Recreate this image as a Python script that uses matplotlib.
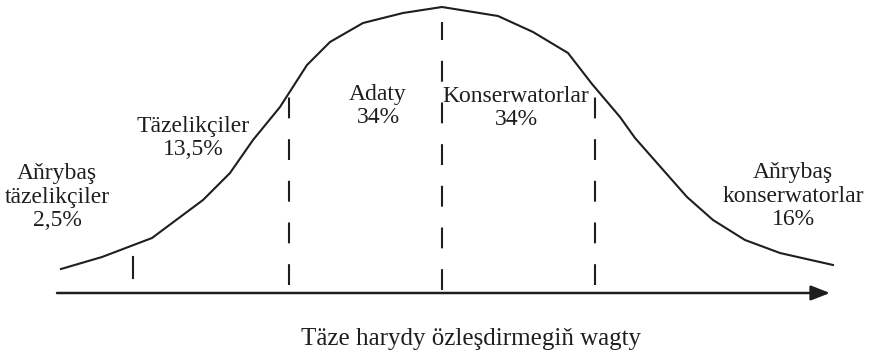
import matplotlib
matplotlib.use("Agg")
import matplotlib.pyplot as plt

plt.rcParams["font.family"] = ["Liberation Serif", "DejaVu Serif"]
plt.rcParams["lines.scale_dashes"] = False

INK = "#1e1e1e"

# adoption curve: time along the axis, height above the axis
curve_t = [61, 102, 152, 203, 230, 253, 280, 307, 330, 363, 403, 442,
           498, 533, 568, 592, 620, 635, 687, 713, 745, 780, 833]
curve_h = [24, 36, 55, 93, 120, 153, 186, 228, 251, 270, 280, 286,
           277, 261, 240, 209, 176, 155, 96, 73, 53, 40, 28]

# group boundaries (time, lower and upper end of the marker)
bound_t = [289, 442, 595]
bound_lo = [8, 3, 8]
bound_hi = [198, 271, 205]
early_t = 133
early_lo, early_hi = 15, 36

group_labels = [
    "Aňrybaş\ntäzelikçiler\n2,5%",
    "Täzelikçiler\n13,5%",
    "Adaty\n34%",
    "Konserwatorlar\n34%",
    "Aňrybaş\nkonserwatorlar\n16%",
]
label_t = [57, 193, 378, 516, 793]
label_h = [96, 155, 187, 185, 97]

x_title = "Täze harydy özleşdirmegiň wagty"

fig = plt.figure(figsize=(8.75, 3.53), dpi=100)
ax = fig.add_axes([0, 0, 1, 1])
ax.set_xlim(0, 875)
ax.set_ylim(-60, 293)
ax.axis("off")

ax.plot(curve_t, curve_h, color=INK, lw=1.5, solid_joinstyle="miter")

for t, lo, hi in zip(bound_t, bound_lo, bound_hi):
    ax.plot([t, t], [lo, hi], color=INK, lw=1.5, dashes=(15, 15))
ax.plot([early_t, early_t], [early_lo, early_hi], color=INK, lw=1.5)

ax.annotate("", xy=(830, 0), xytext=(57, 0),
            arrowprops=dict(arrowstyle="-|>,head_length=1.15,head_width=0.45",
                            mutation_scale=10, lw=1.8, color=INK,
                            shrinkA=0, shrinkB=0))

for txt, t, h in zip(group_labels, label_t, label_h):
    ax.text(t, h, txt, ha="center", va="center", fontsize=17,
            color=INK, linespacing=1.15)

ax.text(471, -46, x_title, ha="center", va="center", fontsize=18, color=INK)

fig.savefig("out.png", dpi=100)
